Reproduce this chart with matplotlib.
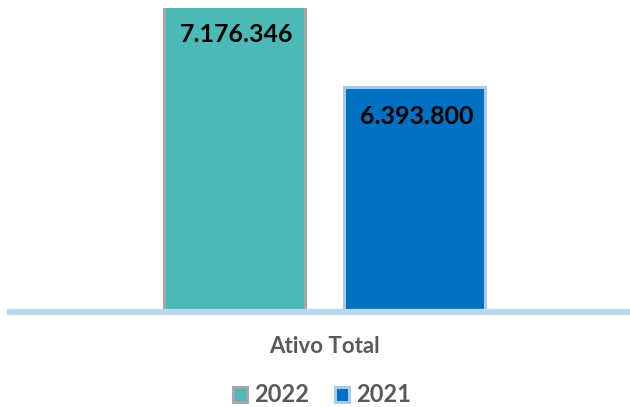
import numpy as np
import matplotlib.pyplot as plt

categories = ['Ativo Total']
years = ['2022', '2021']
values = [7176346, 6393800]
labels = ['7.176.346', '6.393.800']

colors = ['#4AB9B8', '#0070C0']
edges = ['#A6A6A6', '#A9CBEB']

plt.rcParams['font.family'] = ['Lato', 'DejaVu Sans']

fig = plt.figure(figsize=(6.3, 4.07), dpi=100)
ax = fig.add_axes([10 / 630, 1 - 312 / 407, 620 / 630, (312 - 8) / 407])

offsets = [-0.5, 0.5]
bars = []
for off, val, lab, col, ec, yr in zip(offsets, values, labels, colors, edges, years):
    b = ax.bar(off, val, width=0.78, color=col, edgecolor=ec, linewidth=2.2,
               label=yr, zorder=2)
    bars.append(b)
    ax.annotate(lab, (off, val), xytext=(1.5, -21), textcoords='offset points',
                ha='center', va='center', fontsize=18, fontweight='bold',
                color='black', annotation_clip=False)

# y axis does not start at zero in the original, and the tallest bar runs off the top
ax.set_ylim(4240000, 7150000)
ax.set_xlim(-1.747, 1.697)

ax.axhline(4240000, color='#BDD7EE', lw=4.5, zorder=3, clip_on=False)

ax.set_xticks([0])
ax.set_xticklabels(categories, fontsize=16, fontweight='bold', color='#595959')
ax.tick_params(axis='x', length=0, pad=17)
ax.set_yticks([])
for s in ax.spines.values():
    s.set_visible(False)

fig.legend(handles=[b[0] for b in bars], labels=years, loc='center',
           bbox_to_anchor=(322 / 630, 1 - 395 / 407), ncol=2, frameon=False,
           handlelength=0.6, handleheight=0.6, handletextpad=0.3,
           columnspacing=1.1, prop={'size': 17, 'weight': 'bold'},
           labelcolor='#595959')

fig.savefig('out.png', dpi=100)
